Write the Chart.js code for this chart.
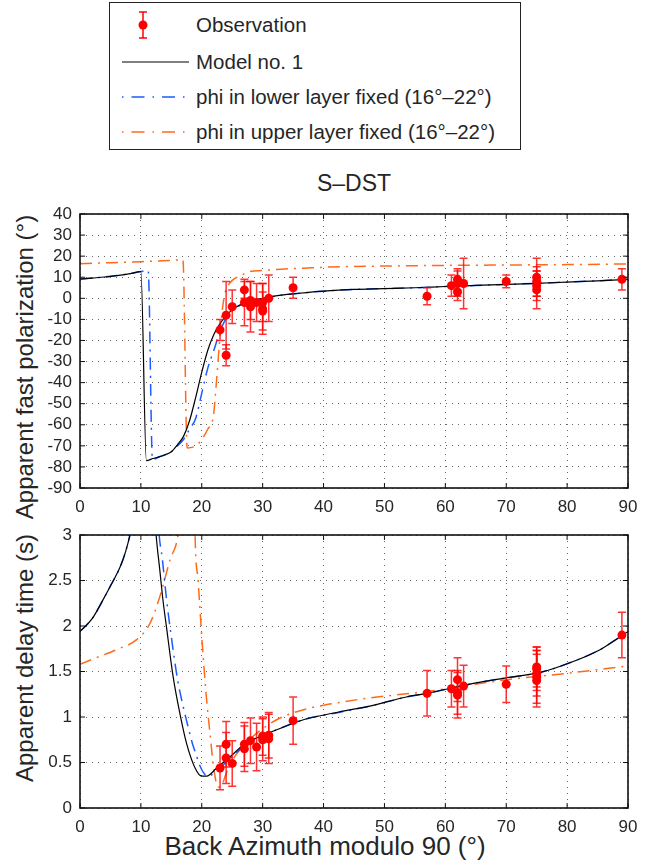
<!DOCTYPE html>
<html>
<head>
<meta charset="utf-8">
<script src="https://cdn.jsdelivr.net/npm/chart.js@4/dist/chart.umd.min.js"></script>
<style>
  html, body { margin: 0; padding: 0; background: #fff; }
  body { width: 652px; height: 863px; position: relative; overflow: hidden;
         font-family: "Liberation Sans", Arial, Helvetica, sans-serif; color: #262626; }
  #legend { position: absolute; left: 109px; top: 2px; width: 412px; height: 148px;
            border: 1.5px solid #222; box-sizing: border-box; background: #fff; }
  .row { position: absolute; left: 0; width: 100%; height: 30px; }
  .row svg { position: absolute; left: 11.5px; top: 0; }
  .row span { position: absolute; left: 86px; top: 0; line-height: 30px; font-size: 20.5px; white-space: nowrap; }
  .lbl { position: absolute; height: 30px; line-height: 30px; text-align: center; white-space: nowrap; }
  .rot { transform: rotate(-90deg); }
  #w1 { position: absolute; left: 0; top: 160px; width: 652px; height: 360px; }
  #w2 { position: absolute; left: 0; top: 520px; width: 652px; height: 343px; }
</style>
</head>
<body>
<div id="legend">
  <div class="row" style="top:6.5px">
    <svg width="70" height="30"><line x1="21" y1="2" x2="21" y2="28" stroke="#ff0000" stroke-width="1.5"/><line x1="17" y1="2" x2="25" y2="2" stroke="#ff0000" stroke-width="1.5"/><line x1="17" y1="28" x2="25" y2="28" stroke="#ff0000" stroke-width="1.5"/><circle cx="21" cy="15" r="4.5" fill="#ff0000"/></svg>
    <span>Observation</span>
  </div>
  <div class="row" style="top:43.5px">
    <svg width="70" height="30"><line x1="0" y1="15" x2="67" y2="15" stroke="#000" stroke-width="1.2"/></svg>
    <span>Model no. 1</span>
  </div>
  <div class="row" style="top:78.5px">
    <svg width="70" height="30"><line x1="0" y1="15" x2="67" y2="15" stroke="#1a5cff" stroke-width="1.5" stroke-dasharray="1.5 8 13 8"/></svg>
    <span>phi in lower layer fixed (16°–22°)</span>
  </div>
  <div class="row" style="top:113.5px">
    <svg width="70" height="30"><line x1="0" y1="15" x2="67" y2="15" stroke="#ff6a1a" stroke-width="1.5" stroke-dasharray="1.5 8 13 8"/></svg>
    <span>phi in upper layer fixed (16°–22°)</span>
  </div>
</div>

<div class="lbl" style="left:254px;top:168px;width:200px;font-size:23px;">S–DST</div>
<div class="lbl rot" style="left:-175px;top:352px;width:400px;font-size:24px;">Apparent fast polarization (°)</div>
<div class="lbl rot" style="left:-175px;top:643px;width:400px;font-size:24px;">Apparent delay time (s)</div>
<div class="lbl" style="left:125px;top:831px;width:400px;font-size:26px;">Back Azimuth modulo 90 (°)</div>

<div id="w1"><canvas id="c1" width="652" height="360"></canvas></div>
<div id="w2"><canvas id="c2" width="652" height="343"></canvas></div>
<script>
// ---------- tick values ----------
const azTicks = [0, 10, 20, 30, 40, 50, 60, 70, 80, 90];
const phiTicks = [-90, -80, -70, -60, -50, -40, -30, -20, -10, 0, 10, 20, 30, 40];
const dtTicks = [0, 0.5, 1, 1.5, 2, 2.5, 3];
const dtTickLabels = ['0', '0.5', '1', '1.5', '2', '2.5', '3'];

// ---------- observations: fast polarization ----------
const phiObsAz  = [23, 24, 24, 25, 27, 27, 28, 28, 29, 30, 30, 30, 31, 35, 57, 61, 62, 62, 62, 63, 70, 75, 75, 75, 75, 89];
const phiObs    = [-15, -8, -27, -4, 4, -2, -1, -4, -2, -2, -5, -6, 0, 5, 1, 6, 9, 7, 3, 7, 8, 10, 8, 6, 4, 9];
const phiObsErr = [5, 16, 5, 8, 4, 11, 9, 12, 9, 9, 12, 9, 11, 5, 4, 5, 5, 6, 4, 12, 3, 9, 7, 7, 9, 5];

// ---------- observations: delay time ----------
const dtObsAz  = [23, 24, 24, 25, 27, 27, 28, 29, 30, 30, 31, 31, 35, 57, 61, 62, 62, 62, 63, 70, 75, 75, 75, 75, 75, 89];
const dtObs    = [0.44, 0.70, 0.55, 0.49, 0.70, 0.65, 0.74, 0.67, 0.79, 0.75, 0.80, 0.76, 0.96, 1.26, 1.31, 1.41, 1.27, 1.24, 1.34, 1.36, 1.55, 1.53, 1.48, 1.44, 1.40, 1.90];
const dtObsErr = [0.24, 0.25, 0.28, 0.25, 0.24, 0.25, 0.25, 0.26, 0.21, 0.23, 0.25, 0.27, 0.26, 0.25, 0.20, 0.24, 0.24, 0.25, 0.23, 0.20, 0.22, 0.24, 0.25, 0.29, 0.29, 0.25];

// ---------- Model no. 1 ----------
const modelPhiAz = [0, 2, 4, 6, 8, 10, 10.9, 12, 13, 14, 15, 16, 17, 18, 19, 20, 21, 22, 23, 24, 25, 26, 28, 30, 33, 36, 40, 45, 50, 55, 60, 65, 70, 75, 80, 85, 90];
const modelPhi   = [9.1, 9.6, 10.1, 10.8, 11.6, 12.7, -77, -76, -75.2, -74.2, -72.8, -69.5, -65.5, -58, -47, -35, -24.5, -17, -12, -8.2, -5.5, -3.5, -1.3, 0, 1.5, 2.4, 3.4, 4.2, 4.6, 5.0, 5.6, 6.1, 6.6, 7.1, 7.7, 8.3, 9.0];
const modelDtAz  = [0, 2, 3.8, 5, 6.6, 7.5, 8.2, 9, 9.8, 10.5, 11.5, 12, 12.5, 13.1, 13.6, 14.2, 15.3, 16.4, 17.5, 18.9, 20, 20.8, 22.45, 24.6, 26.8, 29, 32.3, 36.7, 42.5, 47.6, 53.6, 57, 64.6, 70, 75.6, 81, 85.4, 88, 90];
const modelDt    = [1.94, 2.08, 2.29, 2.44, 2.65, 2.82, 3.0, 3.3, 3.8, 4.5, 4.2, 3.5, 3.0, 2.62, 2.3, 1.99, 1.44, 1.04, 0.71, 0.44, 0.35, 0.35, 0.44, 0.56, 0.69, 0.77, 0.86, 0.97, 1.055, 1.12, 1.22, 1.26, 1.37, 1.43, 1.49, 1.61, 1.74, 1.85, 1.94];

// ---------- phi in lower layer fixed ----------
const lowerPhiAz = [0, 2, 4, 6, 8, 10, 11.2, 11.9, 13, 14, 15, 16, 17, 18, 19, 20, 21, 22, 23, 24, 25, 26, 28, 30, 33, 36, 40, 45, 50, 55, 60, 65, 70, 75, 80, 85, 90];
const lowerPhi   = [9.1, 9.6, 10.1, 10.8, 11.6, 12.7, 13.2, -76.5, -75.2, -74.2, -72.8, -70, -67, -62, -57, -45, -33, -24.5, -15.7, -9.5, -6, -3.8, -1.5, -0.2, 1.5, 2.4, 3.4, 4.2, 4.6, 5.0, 5.6, 6.1, 6.6, 7.1, 7.7, 8.3, 9.0];
const lowerDtAz  = [0, 2, 3.8, 5, 6.6, 7.5, 8.2, 9, 9.8, 10.5, 11.5, 12.5, 13, 13.5, 14.2, 15, 16, 17, 17.5, 18.5, 19, 19.5, 20, 20.5, 21, 21.5, 22.5, 24.6, 26.8, 29, 32.3, 36.7, 42.5, 47.6, 53.6, 57, 64.6, 70, 75.6, 81, 85.4, 88, 90];
const lowerDt    = [1.94, 2.08, 2.29, 2.44, 2.65, 2.82, 3.0, 3.3, 3.8, 4.5, 4.5, 3.6, 3.0, 2.75, 2.3, 1.88, 1.42, 1.1, 0.96, 0.7, 0.6, 0.5, 0.42, 0.37, 0.35, 0.36, 0.41, 0.54, 0.67, 0.76, 0.86, 0.97, 1.05, 1.12, 1.22, 1.26, 1.37, 1.43, 1.49, 1.61, 1.74, 1.85, 1.94];

// ---------- phi in upper layer fixed ----------
const upperPhiAz = [0, 5, 10, 15, 16.9, 17.6, 19, 20, 21, 21.9, 22.4, 22.8, 23.2, 23.7, 24.3, 25, 26.3, 27.9, 30, 33, 36.7, 42.7, 50, 59.1, 70, 80, 90];
const upperPhi   = [16.4, 16.9, 17.4, 18.0, 18.3, -71, -70, -67, -62, -56, -40, -25, -10, 1, 6, 8.5, 10.7, 12.7, 13.2, 13.8, 14.3, 15.0, 15.3, 15.6, 15.8, 16.0, 16.3];
const upperDtAz  = [0, 3, 6, 9.3, 11.5, 13.1, 14.8, 16.1, 17, 17.8, 18.5, 18.9, 19.4, 20, 20.7, 21.35, 22, 22.7, 23.3, 24, 25, 26, 27.5, 29, 32.3, 36.7, 42.7, 47.6, 56.9, 70.1, 80, 90];
const upperDt    = [1.58, 1.66, 1.74, 1.85, 2.03, 2.32, 2.73, 3.0, 3.6, 5, 5, 3.0, 2.5, 1.88, 1.26, 0.82, 0.42, 0.23, 0.25, 0.38, 0.52, 0.62, 0.73, 0.82, 0.97, 1.08, 1.16, 1.21, 1.28, 1.41, 1.48, 1.56];

// ---------- helpers ----------
const FONT = '"Liberation Sans", Arial, Helvetica, sans-serif';
const TXT = '#262626';
const zip = (xs, ys) => xs.map((x, i) => ({ x: x, y: ys[i] }));
const DASHDOT = [12, 6, 2, 6];

const errorBarPlugin = {
  id: 'errbars',
  beforeDatasetDraw(chart, args) {
    const ds = chart.data.datasets[args.index];
    if (!ds.errors) return;
    const ctx = chart.ctx, ys = chart.scales.y, a = chart.chartArea;
    const meta = chart.getDatasetMeta(args.index);
    ctx.save();
    ctx.beginPath(); ctx.rect(a.left, a.top, a.right - a.left, a.bottom - a.top); ctx.clip();
    ctx.strokeStyle = 'rgba(255,0,0,0.8)';
    ctx.lineWidth = 1.5;
    meta.data.forEach((pt, j) => {
      const v = ds.data[j].y, e = ds.errors[j];
      const y1 = ys.getPixelForValue(v + e), y2 = ys.getPixelForValue(v - e);
      const x = pt.x;
      ctx.beginPath();
      ctx.moveTo(x, y1); ctx.lineTo(x, y2);
      ctx.moveTo(x - 4, y1); ctx.lineTo(x + 4, y1);
      ctx.moveTo(x - 4, y2); ctx.lineTo(x + 4, y2);
      ctx.stroke();
    });
    ctx.restore();
  }
};

const framePlugin = {
  id: 'frame',
  afterDraw(chart) {
    const ctx = chart.ctx, a = chart.chartArea;
    const xs = chart.scales.x, ys = chart.scales.y;
    ctx.save();
    ctx.strokeStyle = '#111';
    ctx.lineWidth = 1;
    const L = 5;
    ctx.beginPath();
    xs.ticks.forEach(t => {
      const px = xs.getPixelForValue(t.value);
      ctx.moveTo(px, a.bottom); ctx.lineTo(px, a.bottom - L);
      ctx.moveTo(px, a.top); ctx.lineTo(px, a.top + L);
    });
    ys.ticks.forEach(t => {
      const py = ys.getPixelForValue(t.value);
      ctx.moveTo(a.left, py); ctx.lineTo(a.left + L, py);
      ctx.moveTo(a.right, py); ctx.lineTo(a.right - L, py);
    });
    ctx.stroke();
    ctx.lineWidth = 1.6;
    ctx.strokeRect(a.left, a.top, a.right - a.left, a.bottom - a.top);
    ctx.restore();
  }
};

function lineDs(label, xs, ys, color, dash, width) {
  return {
    label: label, type: 'scatter', data: zip(xs, ys), showLine: true,
    borderColor: color, backgroundColor: color, borderWidth: width,
    borderDash: dash, pointRadius: 0, pointHoverRadius: 0,
    cubicInterpolationMode: 'monotone'
  };
}
function obsDs(xs, ys, errs) {
  return {
    label: 'Observation', type: 'scatter', data: zip(xs, ys), errors: errs,
    showLine: false, pointRadius: 4.5, pointBackgroundColor: '#ff0000',
    pointBorderWidth: 0, borderColor: '#ff0000'
  };
}
const gridOpts = { color: 'rgba(0,0,0,0.6)', lineWidth: 1, drawTicks: false };
const borderOpts = { display: false, dash: [1, 5] };

function xScale(height) {
  return {
    type: 'linear', min: 0, max: 90,
    afterBuildTicks: s => { s.ticks = azTicks.map(v => ({ value: v })); },
    ticks: { font: { family: FONT, size: 17 }, color: TXT, padding: 9, maxRotation: 0, autoSkip: false,
             callback: v => String(v) },
    grid: gridOpts, border: borderOpts,
    title: { display: false },
    afterFit: s => { s.height = height; s.paddingLeft = 0; s.paddingRight = 0; }
  };
}
function yScale(min, max, vals, labels) {
  return {
    type: 'linear', min: min, max: max,
    afterBuildTicks: s => { s.ticks = vals.map(v => ({ value: v })); },
    ticks: { font: { family: FONT, size: 17 }, color: TXT, padding: 8, autoSkip: false,
             callback: (v, i) => labels ? labels[i] : String(v) },
    grid: gridOpts, border: borderOpts,
    title: { display: false },
    afterFit: s => { s.width = 80; s.paddingTop = 0; s.paddingBottom = 0; }
  };
}

const common = { responsive: false, devicePixelRatio: 1, animation: false, events: [] };

new Chart(document.getElementById('c1'), {
  type: 'scatter',
  data: {
    datasets: [
      obsDs(phiObsAz, phiObs, phiObsErr),
      lineDs('Model no. 1', modelPhiAz, modelPhi, '#000000', [], 1.2),
      lineDs('phi in lower layer fixed (16°–22°)', lowerPhiAz, lowerPhi, '#1a5cff', DASHDOT, 1.5),
      lineDs('phi in upper layer fixed (16°–22°)', upperPhiAz, upperPhi, '#ff6a1a', DASHDOT, 1.5)
    ]
  },
  options: Object.assign({}, common, {
    layout: { padding: { left: 0, right: 24, top: 54, bottom: 0 } },
    plugins: { legend: { display: false }, tooltip: { enabled: false }, title: { display: false } },
    scales: {
      x: xScale(32),
      y: yScale(-90, 40, phiTicks, null)
    }
  }),
  plugins: [errorBarPlugin, framePlugin]
});

new Chart(document.getElementById('c2'), {
  type: 'scatter',
  data: {
    datasets: [
      obsDs(dtObsAz, dtObs, dtObsErr),
      lineDs('Model no. 1', modelDtAz, modelDt, '#000000', [], 1.2),
      lineDs('phi in lower layer fixed (16°–22°)', lowerDtAz, lowerDt, '#1a5cff', DASHDOT, 1.5),
      lineDs('phi in upper layer fixed (16°–22°)', upperDtAz, upperDt, '#ff6a1a', DASHDOT, 1.5)
    ]
  },
  options: Object.assign({}, common, {
    layout: { padding: { left: 0, right: 24, top: 15, bottom: 0 } },
    plugins: { legend: { display: false }, tooltip: { enabled: false }, title: { display: false } },
    scales: {
      x: xScale(55),
      y: yScale(0, 3, dtTicks, dtTickLabels)
    }
  }),
  plugins: [errorBarPlugin, framePlugin]
});
</script>
</body>
</html>
